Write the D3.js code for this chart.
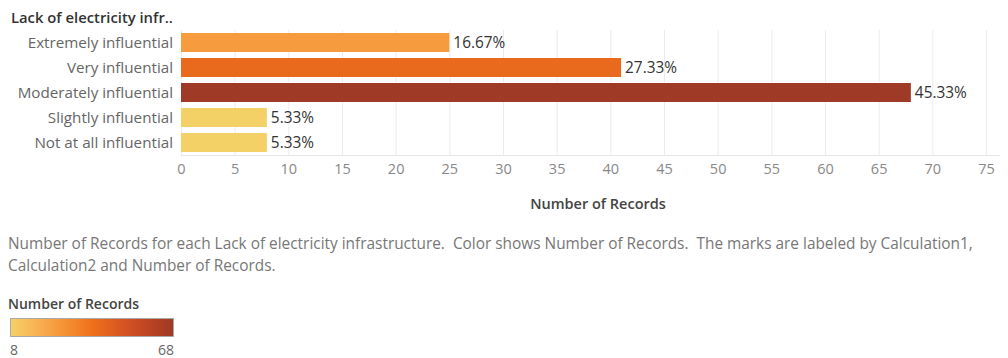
<!DOCTYPE html>
<html>
<head>
<meta charset="utf-8">
<script src="https://cdn.jsdelivr.net/npm/d3@7"></script>
<style>
  html, body { margin: 0; padding: 0; background: #fff; }
  svg { display: block; font-family: "Open Sans", Lato, sans-serif; }
  .pre { white-space: pre; }
</style>
</head>
<body>
<svg id="chart" width="1008" height="358"></svg>
<script>
// Survey responses: influence of lack of electricity infrastructure
const categories = ["Extremely influential", "Very influential", "Moderately influential", "Slightly influential", "Not at all influential"];
const records = [25, 41, 68, 8, 8];
const percentLabels = ["16.67%", "27.33%", "45.33%", "5.33%", "5.33%"];
const xTicks = [0, 5, 10, 15, 20, 25, 30, 35, 40, 45, 50, 55, 60, 65, 70, 75];
const colorStops = ["#f4d166", "#f8be5c", "#f8aa4c", "#f5983b", "#f3852a", "#ef701b", "#e2621f", "#d65322", "#c54923", "#b14023", "#9e3a26"];

const svg = d3.select("#chart");

const x = d3.scaleLinear().domain([0, 75]).range([181, 986]);
const y = d3.scaleBand().domain(categories).range([30, 155]).paddingInner(0.24).paddingOuter(0.12);

const minV = d3.min(records), maxV = d3.max(records);
const interp = d3.piecewise(d3.interpolateRgb, colorStops);
const color = v => interp((v - minV) / (maxV - minV));

// Gridlines
svg.append("g")
  .selectAll("line")
  .data(xTicks)
  .join("line")
  .attr("x1", d => x(d) + 0.5).attr("x2", d => x(d) + 0.5)
  .attr("y1", 30).attr("y2", 155)
  .attr("stroke", "#ececec").attr("stroke-width", 1);

svg.append("line")
  .attr("x1", 181).attr("x2", 1000)
  .attr("y1", 155.5).attr("y2", 155.5)
  .attr("stroke", "#e6e6e6");

// Header
svg.append("text")
  .attr("x", 11).attr("y", 23)
  .attr("font-size", 14.8).attr("font-weight", 600).attr("fill", "#333")
  .text("Lack of electricity infr..");

// Bars
const rows = categories.map((c, i) => ({ c, v: records[i], label: percentLabels[i] }));

svg.append("g")
  .selectAll("rect")
  .data(rows)
  .join("rect")
  .attr("x", x(0))
  .attr("y", d => y(d.c))
  .attr("width", d => x(d.v) - x(0))
  .attr("height", y.bandwidth())
  .attr("fill", d => color(d.v));

// Category labels
svg.append("g")
  .selectAll("text")
  .data(rows)
  .join("text")
  .attr("x", 173)
  .attr("y", d => y(d.c) + y.bandwidth() / 2)
  .attr("dy", "0.35em")
  .attr("text-anchor", "end")
  .attr("font-size", 15.2).attr("fill", "#666")
  .text(d => d.c);

// Value labels
svg.append("g")
  .selectAll("text")
  .data(rows)
  .join("text")
  .attr("x", d => x(d.v) + 4)
  .attr("y", d => y(d.c) + y.bandwidth() / 2)
  .attr("dy", "0.35em")
  .attr("font-size", 15.4).attr("fill", "#333")
  .text(d => d.label);

// X axis
const xAxis = d3.axisBottom(x).tickValues(xTicks).tickSize(0).tickPadding(0);
const ax = svg.append("g").attr("transform", "translate(0,166)").call(xAxis);
ax.select(".domain").remove();
ax.selectAll("text")
  .attr("font-size", 14.5).attr("fill", "#888")
  .attr("font-family", "'Open Sans', Lato, sans-serif")
  .attr("dy", "0.55em");

svg.append("text")
  .attr("x", 598).attr("y", 209)
  .attr("text-anchor", "middle")
  .attr("font-size", 14.5).attr("font-weight", 600).attr("fill", "#444")
  .text("Number of Records");

// Caption
const caption = [
  "Number of Records for each Lack of electricity infrastructure.  Color shows Number of Records.  The marks are labeled by Calculation1,",
  "Calculation2 and Number of Records."
];
svg.append("g")
  .selectAll("text")
  .data(caption)
  .join("text")
  .attr("class", "pre")
  .attr("x", 8)
  .attr("y", (d, i) => 249 + i * 22)
  .attr("font-size", 15.4).attr("fill", "#777")
  .text(d => d);

// Color legend
svg.append("text")
  .attr("x", 8).attr("y", 309)
  .attr("font-size", 14).attr("font-weight", 600).attr("fill", "#444")
  .text("Number of Records");

const defs = svg.append("defs");
const grad = defs.append("linearGradient").attr("id", "legendGrad");
grad.selectAll("stop")
  .data(colorStops)
  .join("stop")
  .attr("offset", (d, i) => i / (colorStops.length - 1))
  .attr("stop-color", d => d);

svg.append("rect")
  .attr("x", 10.5).attr("y", 318.5)
  .attr("width", 163).attr("height", 18)
  .attr("fill", "url(#legendGrad)")
  .attr("stroke", "#aaa");

svg.append("text")
  .attr("x", 10).attr("y", 355)
  .attr("font-size", 14).attr("fill", "#666")
  .text(minV);
svg.append("text")
  .attr("x", 174).attr("y", 355)
  .attr("text-anchor", "end")
  .attr("font-size", 14).attr("fill", "#666")
  .text(maxV);
</script>
</body>
</html>
